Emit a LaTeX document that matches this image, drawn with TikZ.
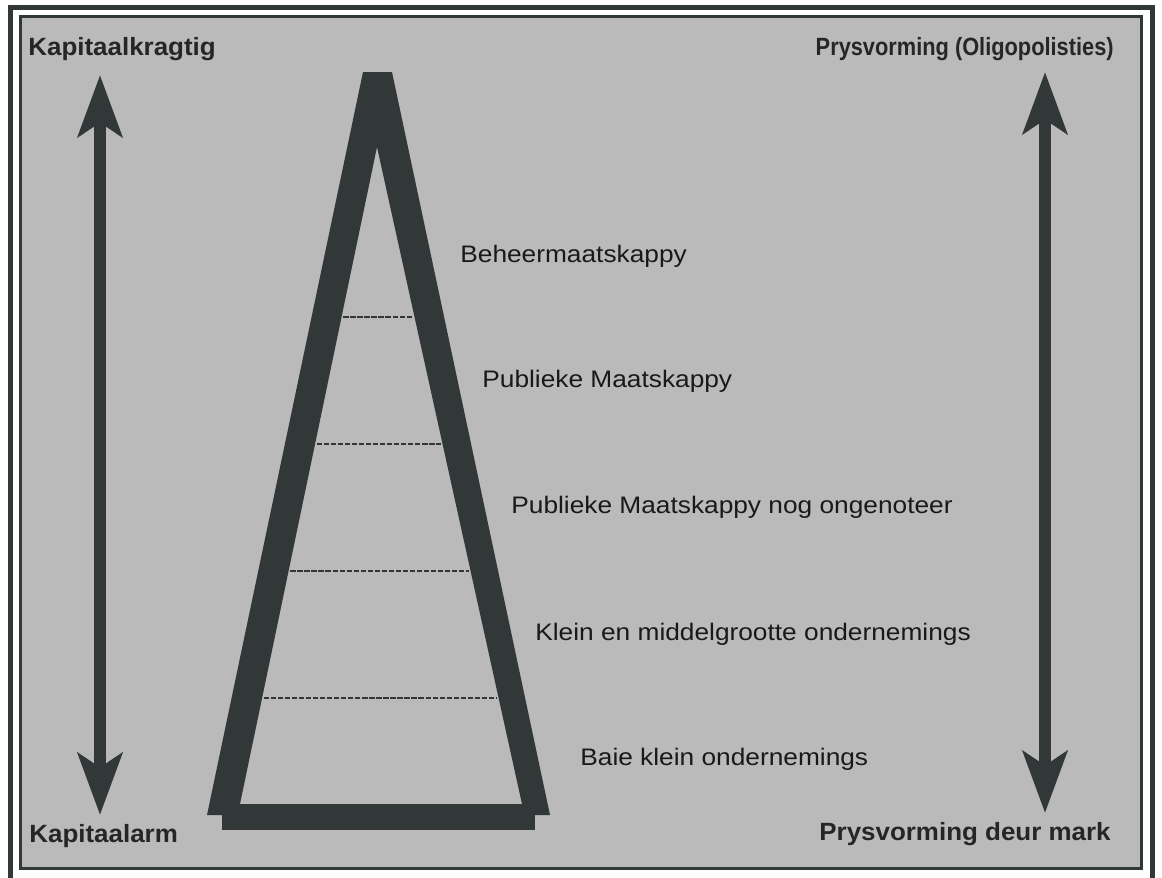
\documentclass[tikz,border=0pt]{standalone}
\usepackage{fontspec}
\setmainfont{Liberation Sans}
\newfontfamily\levelfont{Liberation Sans}[FakeStretch=1.1]
\newfontfamily\cornerfont{Liberation Sans}[FakeStretch=1.04]
\usetikzlibrary{arrows.meta,calc}
\usepackage{xcolor}
\definecolor{pyramid}{RGB}{50,55,55}
\definecolor{screen}{RGB}{186,186,186}

\tikzset{
  level label/.style={font=\levelfont\fontsize{13.6pt}{16pt}\selectfont, inner sep=0pt, anchor=base west, text=black!90},
  corner label/.style={font=\cornerfont\bfseries\fontsize{14.2pt}{17pt}\selectfont, inner sep=0pt, text=black!85},
  scale arrow/.style={pyramid, line width=6.8pt, {Stealth[length=35pt,width=25pt,inset=8pt]}-{Stealth[length=35pt,width=25pt,inset=8pt]}},
  level line/.style={pyramid, line width=0.8pt, dash pattern=on 3pt off 1pt}
}

\begin{document}
\begin{tikzpicture}[x=0.02cm, y=-0.02cm]

\useasboundingbox (0,0) rectangle (1162,877);
\clip (0,0) rectangle (1162,877);

% Frame and screened background
\fill[white] (0,0) rectangle (1162,877);
\draw[pyramid, line width=2.8pt] (10.5,7.5) rectangle (1152.5,882);
\fill[screen] (20.5,16.5) rectangle (1141.5,868.5);
\draw[pyramid, line width=1.2pt] (20.5,16.5) rectangle (1141.5,868.5);

% Pyramid
\coordinate (oa) at (363,72);
\coordinate (ob) at (392,72);
\coordinate (obr) at (550,815);
\coordinate (obl) at (207,815);
\coordinate (ia) at (377,147);
\coordinate (ibr) at (522,804);
\coordinate (ibl) at (240,804);
\fill[pyramid, even odd rule] (oa) -- (ob) -- (obr) -- (obl) -- cycle
    (ia) -- (ibr) -- (ibl) -- cycle;
\fill[pyramid] (222,804) rectangle (535,830);

% Level dividers
\foreach \yy in {317,444,571,698} {
    \pgfmathsetmacro\t{(\yy-147)/657}
    \draw[level line, shorten <=1pt, shorten >=1pt] ($(ia)!\t!(ibl)$) -- ($(ia)!\t!(ibr)$);
}

% Level labels
\foreach \name/\txt/\x/\y in {hold/Beheermaatskappy/460/262,
    pub/Publieke Maatskappy/482/387,
    unlisted/Publieke Maatskappy nog ongenoteer/511/513,
    sme/Klein en middelgrootte ondernemings/535/640,
    micro/Baie klein ondernemings/580/765} {
    \node[level label] (\name) at (\x,\y) {\txt};
}

% Corner labels
\node[corner label, anchor=base west] (strong) at (28,55) {Kapitaalkragtig};
\node[corner label, anchor=base east] (oligo) at (1114,55) {\scalebox{0.84}[1]{Prysvorming (Oligopolisties)}};
\node[corner label, anchor=base west] (weak) at (29,842) {Kapitaalarm};
\node[corner label, anchor=base east] (market) at (1111,840) {Prysvorming deur mark};

% Scale arrows
\coordinate (capTop) at (100,75);
\coordinate (capBot) at (100,815);
\coordinate (priceTop) at (1045,72);
\coordinate (priceBot) at (1045,813);
\draw[scale arrow] (capTop) -- (capBot);
\draw[scale arrow] (priceTop) -- (priceBot);

\end{tikzpicture}
\end{document}
